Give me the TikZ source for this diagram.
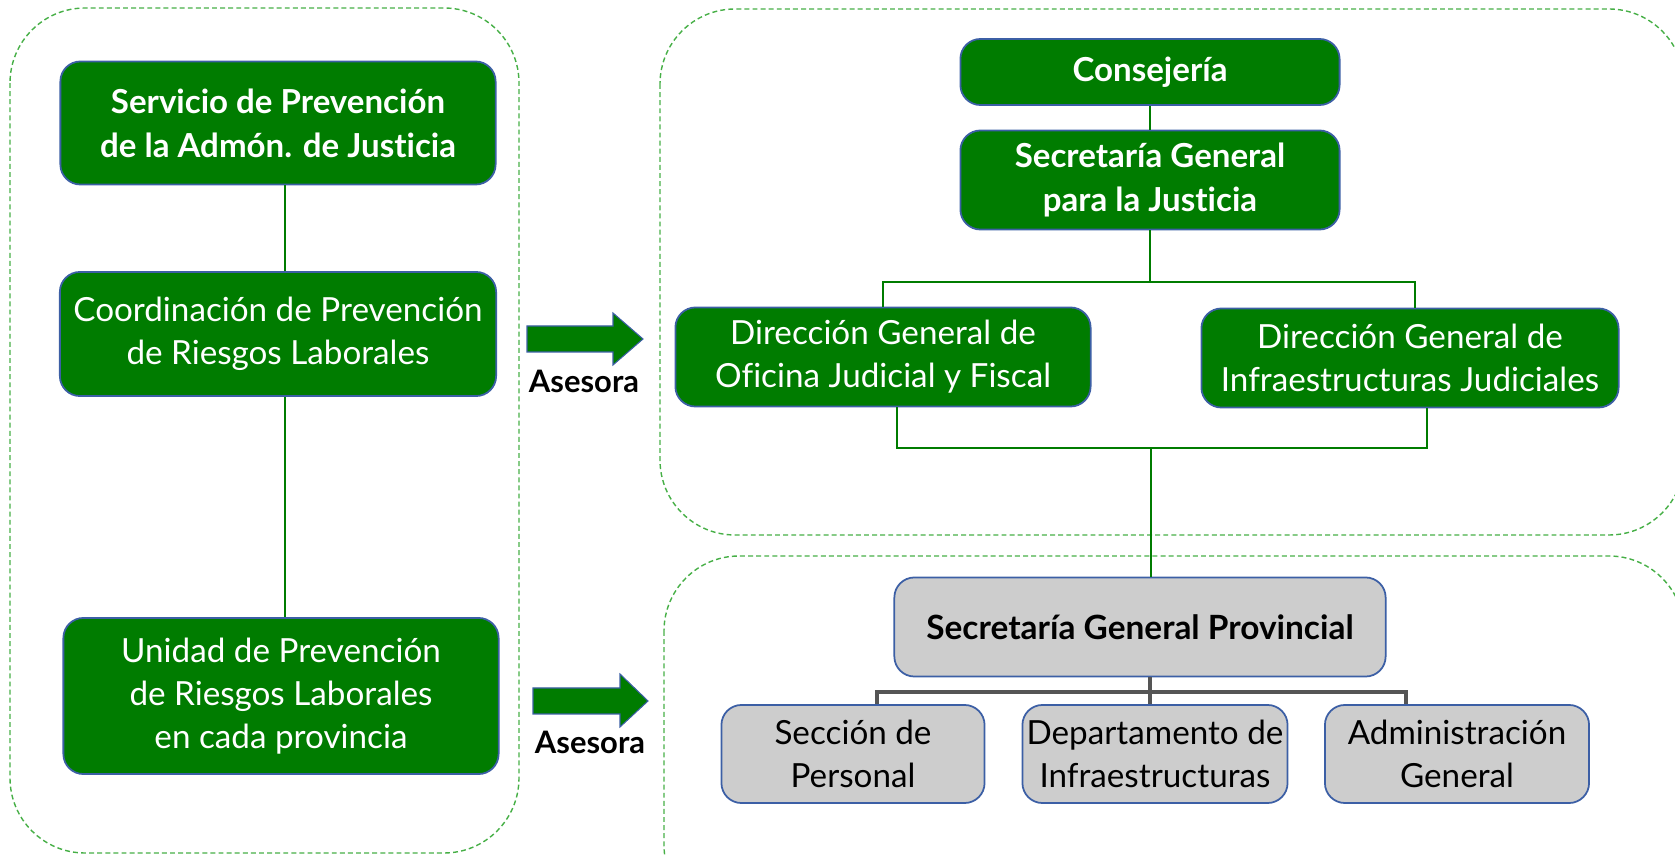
\documentclass[tikz,border=0pt]{standalone}
\usepackage{fontspec}
\setmainfont{Lato}[Ligatures={NoCommon}]
\usepackage{tikz}
\usetikzlibrary{positioning, calc}
\usepackage{xcolor}
\definecolor{jgreen}{RGB}{0,124,0}
\definecolor{boxline}{RGB}{60,95,165}
\definecolor{boxgray}{RGB}{205,205,205}
\definecolor{dashgreen}{RGB}{70,175,70}
\definecolor{linegray}{RGB}{85,85,85}

\begin{document}
\begin{tikzpicture}[x=0.01cm, y=-0.01cm,
  container/.style={draw=dashgreen, dash pattern=on 1.4pt off 0.9pt, line width=0.4pt, rounded corners=0.75cm},
  greenbox/.style={draw=boxline, line width=0.5pt, fill=jgreen, text=white, rounded corners=0.2cm,
    align=center, inner sep=0pt, font=\fontsize{9.45}{12.2}\selectfont},
  boldbox/.style={greenbox, font=\fontsize{9.4}{12.5}\selectfont\bfseries},
  graybox/.style={greenbox, fill=boxgray, text=black},
  conn/.style={draw=jgreen, line width=0.6pt},
  gconn/.style={draw=linegray, line width=0.9pt},
  bigarrow/.style={fill=jgreen, draw=boxline, line width=0.3pt},
  advlabel/.style={font=\fontsize{8.8}{11}\selectfont\bfseries}
]
  \useasboundingbox (0,0) rectangle (1675,855);
  \clip (0,0) rectangle (1675,855);
  % dashed groups
  \draw[container] (10,8) rectangle (519,853);
  \draw[container] (660,9) rectangle (1684,535);
  \draw[container] (664,556) rectangle (1684,920);
  % left column
  \node[boldbox, minimum width=4.35cm, minimum height=1.23cm] (serv) at (278,123)
    {Servicio de Prevención\\de la Admón. de Justicia};
  \node[greenbox, minimum width=4.36cm, minimum height=1.24cm] (coord) at (278,334)
    {Coordinación de Prevención\\de Riesgos Laborales};
  \node[greenbox, minimum width=4.35cm, minimum height=1.56cm] (unid) at (281,696)
    {Unidad de Prevención\\de Riesgos Laborales\\en cada provincia};
  \draw[conn] ([xshift=0.07cm]serv.south) -- ([xshift=0.07cm]coord.north);
  \draw[conn] ([xshift=0.07cm]coord.south) -- ([xshift=0.07cm]coord.south |- unid.north);
  % Asesora arrows
  \fill[bigarrow] (527,326) -- (613,326) -- (613,313) -- (643,339) -- (613,365) -- (613,352) -- (527,352) -- cycle;
  \node[advlabel] (aseA) at (584,381) {Asesora};
  \fill[bigarrow] (533,688) -- (620,688) -- (620,674) -- (648,701) -- (620,727) -- (620,714) -- (533,714) -- cycle;
  \node[advlabel] (aseB) at (590,742) {Asesora};
  % top right group
  \node[boldbox, minimum width=3.79cm, minimum height=0.66cm] (cons) at (1150,72) {Consejería};
  \node[boldbox, minimum width=3.79cm, minimum height=0.99cm] (sgj) at (1150,180)
    {Secretaría General\\para la Justicia};
  \node[greenbox, minimum width=4.15cm, minimum height=0.99cm] (dgo) at (883,357)
    {Dirección General de\\Oficina Judicial y Fiscal};
  \node[greenbox, minimum width=4.17cm, minimum height=0.99cm] (dgi) at (1410,358)
    {Dirección General de\\Infraestructuras Judiciales};
  \draw[conn] (cons) -- (sgj);
  \draw[conn] (sgj.south) -- ++(0,52) -| (dgo.north);
  \draw[conn] (sgj.south) -- ++(0,52) -| ([xshift=0.05cm]dgi.north);
  \coordinate (jn) at (1151,448);
  \draw[conn] ([xshift=0.14cm]dgo.south) |- (jn) -| ([xshift=0.17cm]dgi.south);
  % provincial group
  \node[graybox, font=\fontsize{9.5}{12}\selectfont\bfseries, minimum width=4.91cm, minimum height=0.99cm] (sgp) at (1140,627)
    {Secretaría General Provincial};
  \node[graybox, minimum width=2.63cm, minimum height=0.98cm] (secp) at (853,754) {Sección de\\Personal};
  \node[graybox, minimum width=2.65cm, minimum height=0.98cm] (depi) at (1155,754) {Departamento de\\Infraestructuras};
  \node[graybox, minimum width=2.64cm, minimum height=0.98cm] (admg) at (1457,754) {Administración\\General};
  \draw[conn] (jn) -- (jn |- sgp.north);
  \coordinate (gj) at (1150,692);
  \draw[gconn] (gj |- sgp.south) -- (gj);
  \draw[gconn] ([xshift=0.24cm]secp.north) |- (gj) -| ([xshift=-0.51cm]admg.north);
  \draw[gconn] (gj) -- (gj |- depi.north);
\end{tikzpicture}
\end{document}
